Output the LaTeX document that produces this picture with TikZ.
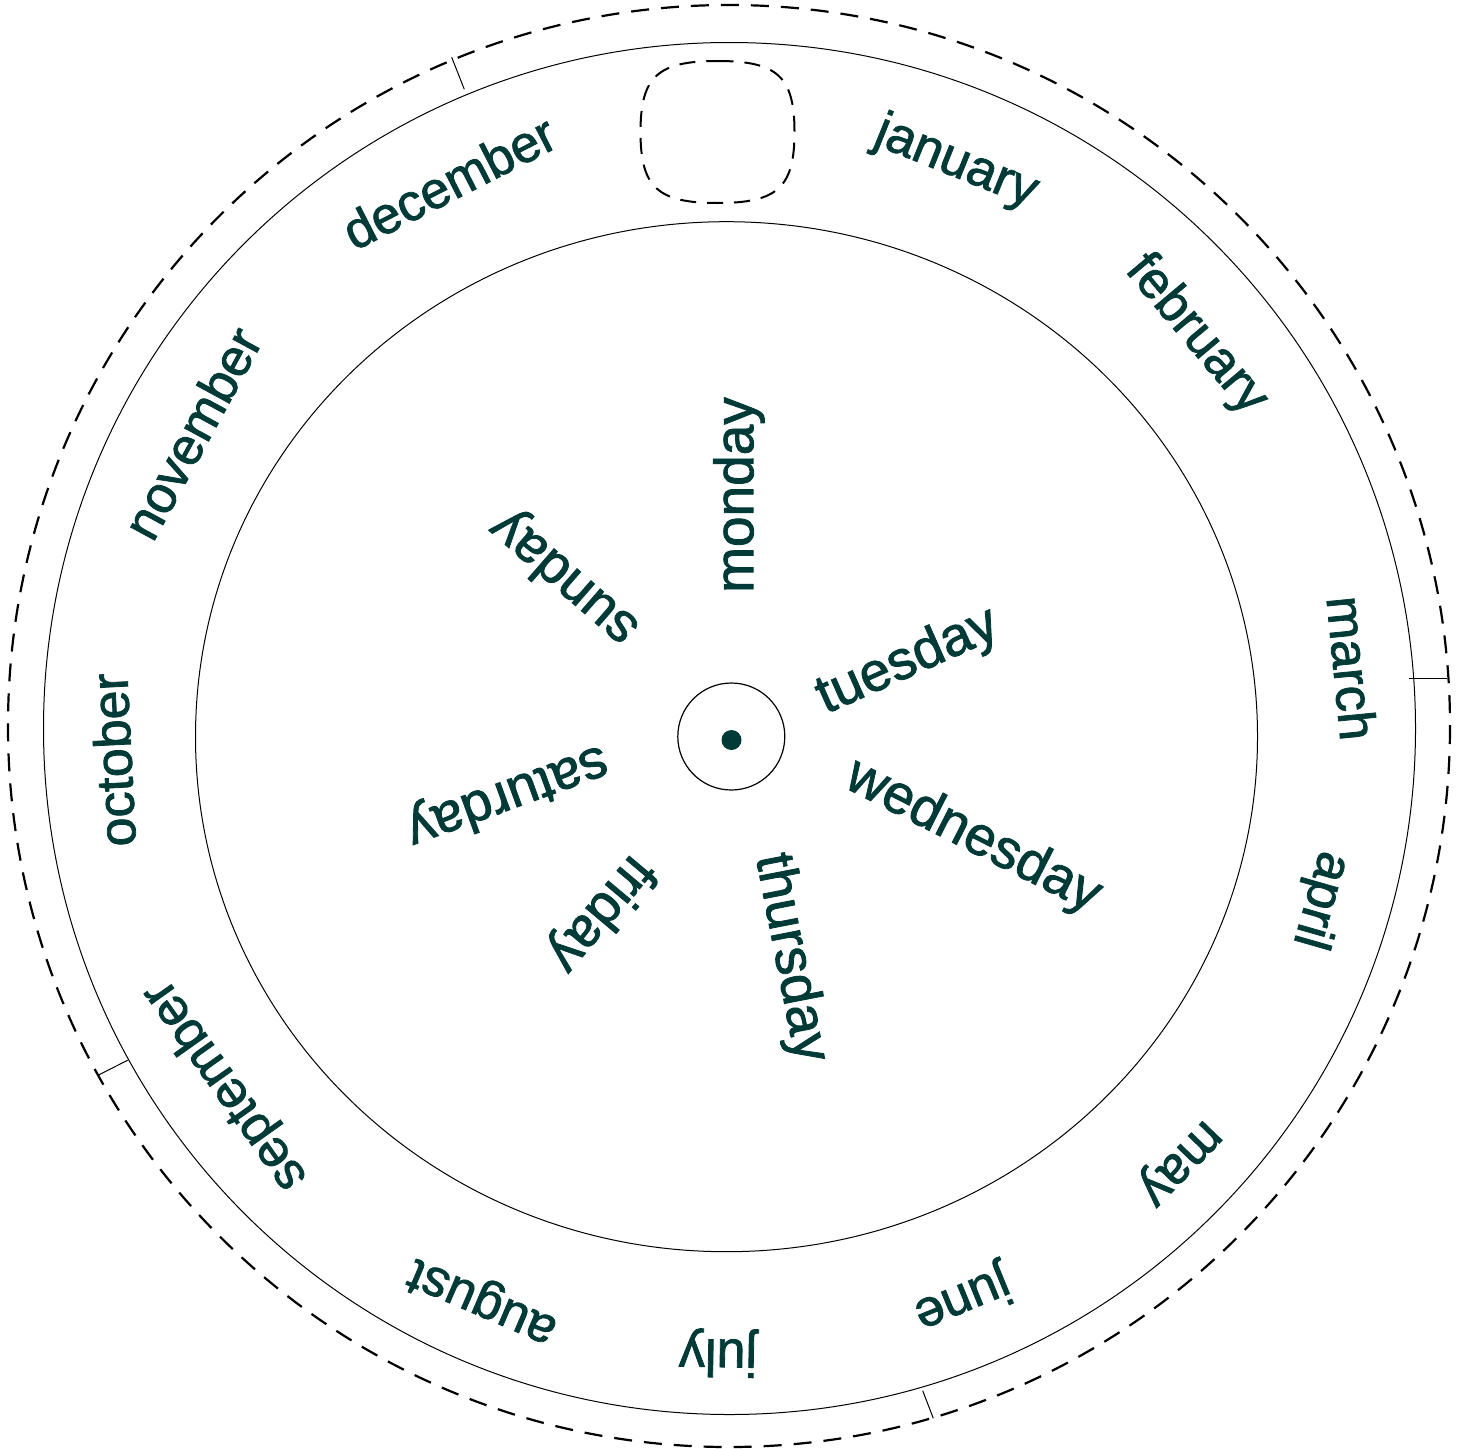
\documentclass[tikz,border=0pt]{standalone}
\usepackage{fontspec}
\setmainfont{Liberation Sans}
\newfontfamily\lblfont[FakeBold=1.5]{Liberation Sans}
\definecolor{ink}{HTML}{023A37}
\begin{document}
\begin{tikzpicture}[x=1pt,y=-1pt,
  monthlbl/.style={text=ink, font=\lblfont\fontsize{52}{52}\selectfont, inner sep=0pt},
  daylbl/.style={text=ink, font=\lblfont\fontsize{55}{55}\selectfont, inner sep=0pt},
  ringline/.style={draw=black, line width=1pt},
  dashring/.style={draw=black, line width=2.2pt, dash pattern=on 18pt off 12pt},
  squircle/.style={draw=black, line width=2pt, dash pattern=on 16pt off 11pt},
  tickline/.style={draw=black, line width=1pt}
]
\useasboundingbox (0,0) rectangle (1463,1448);

% rings
\draw[dashring] (729,726) circle[radius=721];
\draw[ringline] (729.5,728.5) circle[radius=686];
\draw[ringline] (726.5,736.7) ellipse[x radius=531, y radius=515];

% dashed window
\draw[squircle] (717.5,61) .. controls (777.5,61) and (794.5,76.6) .. (794.5,132)
  .. controls (794.5,187.4) and (777.5,203) .. (717.5,203)
  .. controls (657.5,203) and (640.5,187.4) .. (640.5,132)
  .. controls (640.5,76.6) and (657.5,61) .. cycle;

% ticks
\coordinate (t1a) at (464.3,89.3);   \coordinate (t1b) at (451.7,57.3);
\coordinate (t2a) at (1409.3,678.3); \coordinate (t2b) at (1447.3,678.3);
\coordinate (t3a) at (127.7,1060.3); \coordinate (t3b) at (99,1074.7);
\coordinate (t4a) at (922.7,1390.7); \coordinate (t4b) at (933.3,1418.3);
\draw[tickline] (t1a) -- (t1b);
\draw[tickline] (t2a) -- (t2b);
\draw[tickline] (t3a) -- (t3b);
\draw[tickline] (t4a) -- (t4b);

% hub
\node[circle, draw=black, line width=1.2pt, minimum size=107pt, inner sep=0pt] (hub) at (731.3,736.5) {};
\node[circle, fill=ink, minimum size=20pt, inner sep=0pt] (pin) at (731.5,740) {};

% months
\node[monthlbl, rotate=-22]   (jan) at (956,163)  {january};
\node[monthlbl, rotate=-50]   (feb) at (1196,335) {february};
\node[monthlbl, rotate=-84.4] (mar) at (1352,668) {march};
\node[monthlbl, rotate=-106]  (apr) at (1320,900) {april};
\node[monthlbl, rotate=-134]  (may) at (1177,1160) {may};
\node[monthlbl, rotate=-157.7] (jun) at (962,1298) {june};
\node[monthlbl, rotate=-181]  (jul) at (718,1353) {july};
\node[monthlbl, rotate=-203.3] (aug) at (483,1300) {august};
\node[monthlbl, rotate=125.3] (sep) at (226,1085) {september};
\node[monthlbl, rotate=92.9]  (oct) at (113,760)  {october};
\node[monthlbl, rotate=61.4]  (nov) at (192,433)  {november};
\node[monthlbl, rotate=27.1]  (dec) at (449,182)  {december};

% days
\node[daylbl, rotate=90]   (mon) at (739,495) {monday};
\node[daylbl, rotate=24]   (tue) at (908,662) {tuesday};
\node[daylbl, rotate=-27]  (wed) at (973,837) {wednesday};
\node[daylbl, rotate=-79]  (thu) at (790,958) {thursday};
\node[daylbl, rotate=-130] (fri) at (600,913) {friday};
\node[daylbl, rotate=-160] (sat) at (507,795) {saturday};
\node[daylbl, rotate=139]  (sun) at (565,577) {sunday};
\end{tikzpicture}
\end{document}
